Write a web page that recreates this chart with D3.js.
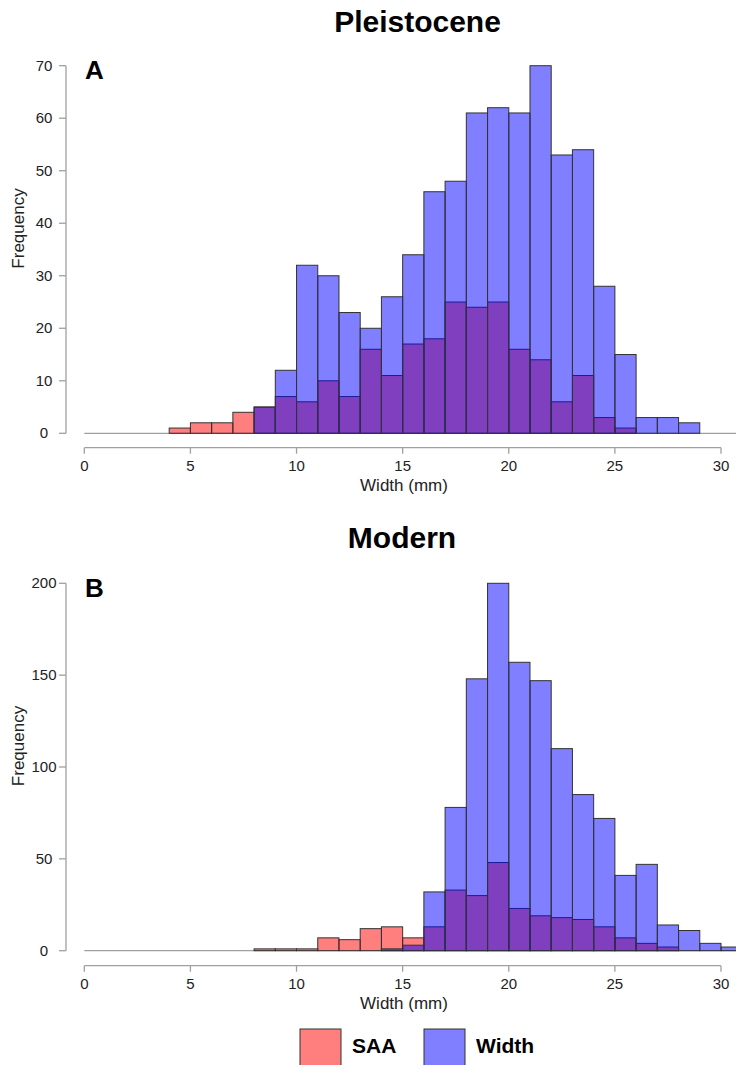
<!DOCTYPE html>
<html>
  <head>
    <meta charset="utf-8">
    <title>Width histograms</title>
    <script src="https://d3js.org/d3.v7.min.js"></script>
    <style>
      body { margin: 0; background: #fff; }
      text { font-family: "Liberation Sans", Arial, sans-serif; }
    </style>
  </head>
  <body>
    <div id="chart"></div>
    <script>
      // histogram bins are 1 mm wide, listed by their lower edge
      var pleistoSaaBins = [4,5,6,7,8,9,10,11,12,13,14,15,16,17,18,19,20,21,22,23,24,25];
      var pleistoSaa     = [1,2,2,4,5,7,6,10,7,16,11,17,18,25,24,25,16,14,6,11,3,1];
      var pleistoWidthBins = [8,9,10,11,12,13,14,15,16,17,18,19,20,21,22,23,24,25,26,27,28];
      var pleistoWidth     = [5,12,32,30,23,20,26,34,46,48,61,62,61,70,53,54,28,15,3,3,2];

      var modernSaaBins = [8,9,10,11,12,13,14,15,16,17,18,19,20,21,22,23,24,25,26,27];
      var modernSaa     = [1,1,1,7,6,12,13,7,13,33,30,48,23,19,18,17,13,7,4,2];
      var modernWidthBins = [14,15,16,17,18,19,20,21,22,23,24,25,26,27,28,29,30];
      var modernWidth     = [1,3,32,78,148,200,157,147,110,85,72,41,47,14,11,4,2];

      var xTicks = [0,5,10,15,20,25,30];
      var pleistoYTicks = [0,10,20,30,40,50,60,70];
      var modernYTicks = [0,50,100,150,200];
      var seriesNames = ["SAA", "Width"];

      var width = 736, height = 1065;
      var red = "rgba(255,0,0,0.5)", blue = "rgba(0,0,255,0.5)";
      var axisGray = "#a0a0a0";

      var svg = d3.select("#chart").append("svg")
        .attr("width", width)
        .attr("height", height);

      // x scale is shared by both panels
      var x = d3.scaleLinear().domain([0, 30]).range([84.3, 721]);

      function pairs(bins, counts) {
        return bins.map(function(b, i) { return {x0: b, x1: b + 1, n: counts[i]}; });
      }

      function panel(o) {
        var g = svg.append("g");
        var y = d3.scaleLinear().domain([0, o.yMax]).range([o.y0, o.yTop]);

        g.append("text")
          .attr("x", o.titleX).attr("y", o.titleY)
          .attr("text-anchor", "middle")
          .style("font-size", "30px").style("font-weight", "bold")
          .text(o.title);

        g.append("text")
          .attr("x", 85).attr("y", o.letterY)
          .style("font-size", "26px").style("font-weight", "bold")
          .text(o.letter);

        // zero line
        g.append("line")
          .attr("x1", x(0)).attr("x2", width)
          .attr("y1", y(0)).attr("y2", y(0))
          .attr("stroke", axisGray).attr("stroke-width", 1.3);

        // bars: SAA first, Width drawn over it
        [[pairs(o.saaBins, o.saa), red], [pairs(o.widthBins, o.width), blue]].forEach(function(s) {
          g.append("g").selectAll("rect")
            .data(s[0])
            .enter()
            .append("rect")
            .attr("x", function(d) { return x(d.x0); })
            .attr("width", function(d) { return x(d.x1) - x(d.x0); })
            .attr("y", function(d) { return y(d.n); })
            .attr("height", function(d) { return y(0) - y(d.n); })
            .style("fill", s[1])
            .style("stroke", "#333")
            .style("stroke-width", 1);
        });

        // y axis
        var ya = g.append("g").attr("transform", "translate(66,0)");
        ya.append("line")
          .attr("y1", y(0)).attr("y2", y(o.yMax))
          .attr("stroke", axisGray).attr("stroke-width", 1.3);
        ya.selectAll("line.tk").data(o.yTicks).enter().append("line")
          .attr("class", "tk")
          .attr("x1", -7).attr("x2", 0)
          .attr("y1", function(d) { return y(d); }).attr("y2", function(d) { return y(d); })
          .attr("stroke", axisGray).attr("stroke-width", 1.3);
        ya.selectAll("text").data(o.yTicks).enter().append("text")
          .attr("x", -22).attr("y", function(d) { return y(d) + 5; })
          .attr("text-anchor", "middle")
          .style("font-size", "15px").style("fill", "#222")
          .text(function(d) { return d; });

        g.append("text")
          .attr("transform", "translate(24," + ((o.y0 + o.yTop) / 2 - 21) + ") rotate(-90)")
          .attr("text-anchor", "middle")
          .style("font-size", "17px").style("fill", "#222")
          .text("Frequency");

        // x axis
        var xa = g.append("g").attr("transform", "translate(0," + o.xAxisY + ")");
        xa.append("line")
          .attr("x1", x(0)).attr("x2", x(30))
          .attr("stroke", axisGray).attr("stroke-width", 1.3);
        xa.selectAll("line.tk").data(xTicks).enter().append("line")
          .attr("class", "tk")
          .attr("x1", function(d) { return x(d); }).attr("x2", function(d) { return x(d); })
          .attr("y1", 0).attr("y2", 6)
          .attr("stroke", axisGray).attr("stroke-width", 1.3);
        xa.selectAll("text").data(xTicks).enter().append("text")
          .attr("x", function(d) { return x(d); }).attr("y", 23)
          .attr("text-anchor", "middle")
          .style("font-size", "15px").style("fill", "#222")
          .text(function(d) { return d; });

        g.append("text")
          .attr("x", 404).attr("y", o.xAxisY + 43)
          .attr("text-anchor", "middle")
          .style("font-size", "17px").style("fill", "#222")
          .text("Width (mm)");
      }

      panel({
        title: "Pleistocene", titleX: 417.5, titleY: 32, letter: "A", letterY: 79,
        y0: 433.3, yTop: 65.7, yMax: 70, yTicks: pleistoYTicks, xAxisY: 447.7,
        saaBins: pleistoSaaBins, saa: pleistoSaa, widthBins: pleistoWidthBins, width: pleistoWidth
      });
      panel({
        title: "Modern", titleX: 402, titleY: 548.3, letter: "B", letterY: 596.5,
        y0: 950.7, yTop: 583.3, yMax: 200, yTicks: modernYTicks, xAxisY: 965.7,
        saaBins: modernSaaBins, saa: modernSaa, widthBins: modernWidthBins, width: modernWidth
      });

      // legend
      var legendX = [300, 424];
      var legendFill = [red, blue];
      var lg = svg.append("g").selectAll("g")
        .data(seriesNames)
        .enter()
        .append("g")
        .attr("transform", function(d, i) { return "translate(" + legendX[i] + ",1029)"; });
      lg.append("rect")
        .attr("width", 41).attr("height", 41)
        .style("fill", function(d, i) { return legendFill[i]; })
        .style("stroke", "#333");
      lg.append("text")
        .attr("x", 52).attr("y", 24)
        .style("font-size", "21px").style("font-weight", "bold")
        .text(function(d) { return d; });
    </script>
  </body>
</html>
